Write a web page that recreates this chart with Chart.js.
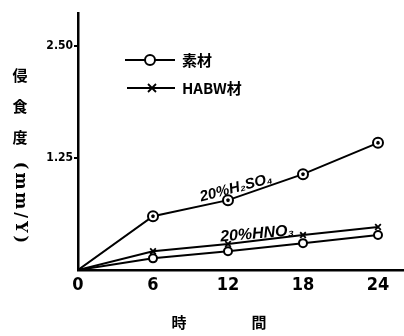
<!DOCTYPE html>
<html>
<head>
<meta charset="utf-8">
<script src="https://cdn.jsdelivr.net/npm/chart.js@4"></script>
<style>
  html, body { margin: 0; padding: 0; background: #fff; }
  canvas { display: block; }
</style>
</head>
<body>
<canvas id="c" width="404" height="336"></canvas>
<script>
// Corrosion rate (mm/Y) against immersion time (h)
const hours = [0, 6, 12, 18, 24];
const h2so4Base = [0, 0.60, 0.78, 1.07, 1.42];   // 素材, 20% H2SO4
const h2so4Habw = [0, 0.60, 0.78, 1.07, 1.42];   // HABW材, 20% H2SO4
const hno3Base  = [0, 0.13, 0.21, 0.30, 0.39];   // 素材, 20% HNO3
const hno3Habw  = [0, 0.21, 0.29, 0.39, 0.48];   // HABW材, 20% HNO3
const xTicks = [0, 6, 12, 18, 24];
const yTicks = [1.25, 2.50];

const pts = arr => hours.map((h, i) => ({ x: h, y: arr[i] }));
const radii = r => hours.map(h => (h === 0 ? 0 : r));

const INK = '#000';
const CJK = '"Noto Sans CJK JP", "Noto Sans CJK SC", sans-serif';

const annotate = {
  id: 'annotate',
  afterDraw(chart) {
    const ctx = chart.ctx;
    ctx.save();
    ctx.fillStyle = INK;
    ctx.strokeStyle = INK;

    // legend
    ctx.lineWidth = 2;
    ctx.beginPath(); ctx.moveTo(125, 60); ctx.lineTo(175, 60); ctx.stroke();
    ctx.beginPath(); ctx.arc(150, 60, 5, 0, Math.PI * 2);
    ctx.fillStyle = '#fff'; ctx.fill(); ctx.stroke();
    ctx.fillStyle = INK;
    ctx.beginPath(); ctx.moveTo(127, 88); ctx.lineTo(175, 88); ctx.stroke();
    ctx.lineWidth = 1.8;
    ctx.beginPath();
    ctx.moveTo(148, 84); ctx.lineTo(156, 92);
    ctx.moveTo(156, 84); ctx.lineTo(148, 92);
    ctx.stroke();
    ctx.textBaseline = 'middle';
    ctx.textAlign = 'left';
    ctx.font = 'bold 15px ' + CJK;
    ctx.fillText('素材', 182, 60);
    ctx.font = 'bold 15px "Liberation Sans Narrow", ' + CJK;
    ctx.fillText('HABW材', 182, 88);

    // y-axis title: stacked characters, then rotated unit
    ctx.textAlign = 'center';
    ctx.font = 'bold 15px ' + CJK;
    ctx.fillText('侵', 20, 75);
    ctx.fillText('食', 20, 106);
    ctx.fillText('度', 20, 137);
    ctx.save();
    ctx.translate(20, 204);
    ctx.rotate(Math.PI / 2);
    ctx.font = 'bold 16px "DejaVu Serif"';
    ctx.letterSpacing = '3px';
    ctx.fillText('(mm/Y)', 0, 0);
    ctx.restore();

    // x-axis title
    ctx.font = 'bold 15px ' + CJK;
    ctx.fillText('時', 179, 322);
    ctx.fillText('間', 259, 322);

    // curve labels
    ctx.save();
    ctx.translate(236, 188);
    ctx.rotate(-15 * Math.PI / 180);
    ctx.font = 'italic bold 15px "Liberation Sans", "DejaVu Sans"';
    ctx.fillText('20%H₂SO₄', 0, 0);
    ctx.restore();

    ctx.save();
    ctx.translate(257, 234);
    ctx.rotate(-5 * Math.PI / 180);
    ctx.font = 'italic bold 16px "Liberation Sans", "DejaVu Sans"';
    ctx.fillText('20%HNO₃', 0, 0);
    ctx.restore();

    ctx.restore();
  }
};

new Chart(document.getElementById('c'), {
  type: 'line',
  data: {
    datasets: [
      {
        label: 'HABW材 20% H2SO4',
        data: pts(h2so4Habw),
        showLine: false,
        pointStyle: 'crossRot',
        pointRadius: radii(1.8),
        pointBorderWidth: 2,
        borderColor: INK,
        backgroundColor: INK
      },
      {
        label: '素材 20% H2SO4',
        data: pts(h2so4Base),
        borderColor: INK,
        borderWidth: 2,
        pointStyle: 'circle',
        pointRadius: radii(5),
        pointBorderWidth: 2,
        pointBackgroundColor: '#fff',
        pointBorderColor: INK
      },
      {
        label: 'HABW材 20% HNO3',
        data: pts(hno3Habw),
        borderColor: INK,
        borderWidth: 2,
        pointStyle: 'crossRot',
        pointRadius: radii(4),
        pointBorderWidth: 1.8,
        pointBorderColor: INK
      },
      {
        label: '素材 20% HNO3',
        data: pts(hno3Base),
        borderColor: INK,
        borderWidth: 2,
        pointStyle: 'circle',
        pointRadius: radii(4),
        pointBorderWidth: 2,
        pointBackgroundColor: '#fff',
        pointBorderColor: INK
      }
    ]
  },
  options: {
    responsive: false,
    animation: false,
    layout: { autoPadding: false, padding: { top: 13, left: 0, right: 0, bottom: 0 } },
    plugins: { legend: { display: false }, tooltip: { enabled: false } },
    scales: {
      x: {
        type: 'linear',
        min: 0,
        max: 26.08,
        afterBuildTicks: s => { s.ticks = xTicks.map(v => ({ value: v })); },
        afterFit: s => { s.height = 66; s.paddingLeft = 0; s.paddingRight = 0; },
        border: { color: INK, width: 2.5 },
        grid: { drawOnChartArea: false, drawTicks: false },
        ticks: {
          color: INK,
          padding: 5,
          maxRotation: 0,
          font: { family: '"Liberation Sans Narrow", "DejaVu Sans Condensed"', size: 18, weight: 'bold' }
        }
      },
      y: {
        type: 'linear',
        min: 0,
        max: 2.87,
        afterBuildTicks: s => { s.ticks = yTicks.map(v => ({ value: v })); },
        afterFit: s => { s.width = 78; s.paddingTop = 0; s.paddingBottom = 0; },
        border: { color: INK, width: 2.5 },
        grid: { drawOnChartArea: false, tickLength: 4, color: INK, lineWidth: 2 },
        ticks: {
          color: INK,
          padding: 1,
          callback: v => v.toFixed(2),
          font: { family: '"Liberation Sans Narrow", "DejaVu Sans Condensed"', size: 12, weight: 'bold' }
        }
      }
    }
  },
  plugins: [annotate]
});
</script>
</body>
</html>
